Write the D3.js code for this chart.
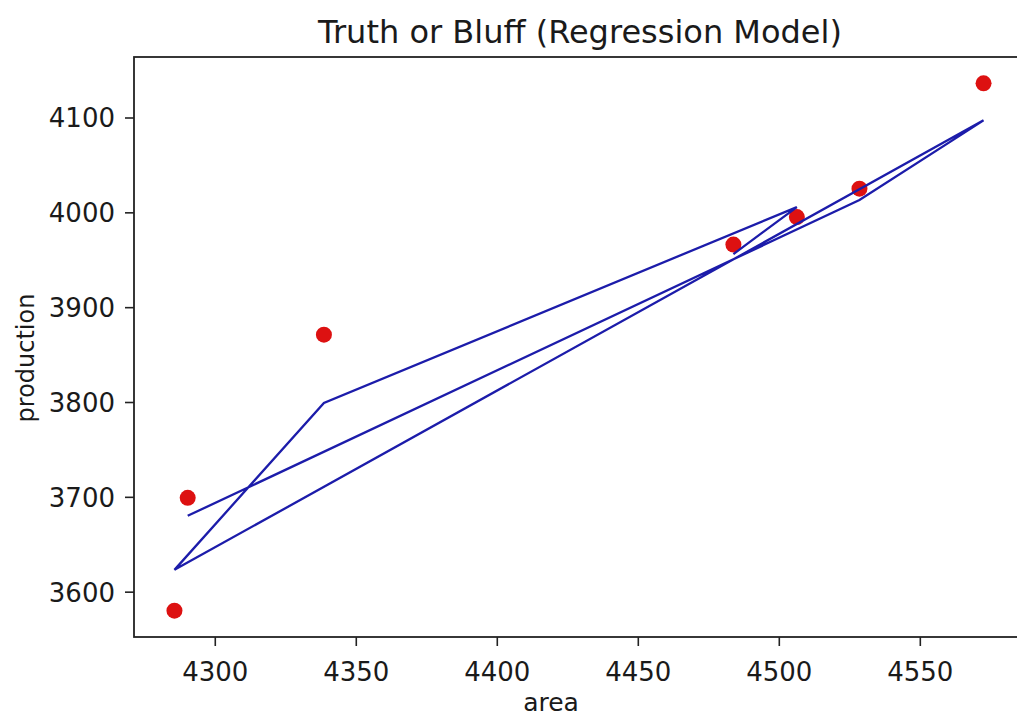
<!DOCTYPE html>
<html>
<head>
<meta charset="utf-8">
<script src="https://cdn.jsdelivr.net/npm/d3@7/dist/d3.min.js"></script>
<style>
  html, body { margin: 0; padding: 0; background: #ffffff; }
  svg { display: block; }
  text { font-family: "DejaVu Sans", sans-serif; fill: #1a1a1a; }
</style>
</head>
<body>
<div id="chart"></div>
<script>
// ---- data (rows in original order) ----
const area       = [4290.4, 4528.6, 4572.6, 4285.7, 4338.7, 4506.4, 4483.9];
const production = [3699,   4025,   4136,   3580,   3871,   3995,   3966];
const predicted  = [3680,   4013,   4097,   3623,   3799,   4005.5, 3956];
const xTicks = [4300, 4350, 4400, 4450, 4500, 4550];
const yTicks = [3600, 3700, 3800, 3900, 4000, 4100];
const titleText = "Truth or Bluff (Regression Model)";
const xLabel = "area";
const yLabel = "production";

const W = 1017, H = 719;
const mLeft = 134, mRight = 1024, mTop = 57, mBottom = 637;

const svg = d3.select("#chart").append("svg")
  .attr("width", W).attr("height", H);

// matplotlib-style 5% margins
const xmin = d3.min(area), xmax = d3.max(area);
const allY = production.concat(predicted);
const ymin = d3.min(allY), ymax = d3.max(allY);
const xm = (xmax - xmin) * 0.05, ym = (ymax - ymin) * 0.05;

const x = d3.scaleLinear().domain([xmin - xm, xmax + xm]).range([mLeft, mRight]);
const y = d3.scaleLinear().domain([ymin - ym, ymax + ym]).range([mBottom, mTop]);

// axes
const xAxis = d3.axisBottom(x).tickValues(xTicks).tickSize(9).tickPadding(10).tickFormat(d3.format("d"));
const yAxis = d3.axisLeft(y).tickValues(yTicks).tickSize(9).tickPadding(10).tickFormat(d3.format("d"));

const gx = svg.append("g").attr("transform", `translate(0,${mBottom})`).call(xAxis);
const gy = svg.append("g").attr("transform", `translate(${mLeft},0)`).call(yAxis);
[gx, gy].forEach(g => {
  g.select(".domain").remove();
  g.selectAll(".tick line").attr("stroke", "#222").attr("stroke-width", 1.6);
  g.selectAll(".tick text").attr("font-size", 26).attr("fill", "#222")
    .style("font-family", "'DejaVu Sans', sans-serif");
});
gx.selectAll(".tick text").attr("dy", "0.95em");
gy.selectAll(".tick text").attr("dy", "0.36em");

// scatter
svg.append("g").selectAll("circle")
  .data(area.map((a, i) => [a, production[i]]))
  .join("circle")
  .attr("cx", d => x(d[0]))
  .attr("cy", d => y(d[1]))
  .attr("r", 8)
  .attr("fill", "#dd1111");

// regression line (data order)
const line = d3.line().x(d => x(d[0])).y(d => y(d[1]));
svg.append("path")
  .datum(area.map((a, i) => [a, predicted[i]]))
  .attr("d", line)
  .attr("fill", "none")
  .attr("stroke", "#1c1caa")
  .attr("stroke-width", 2.3)
  .attr("stroke-linejoin", "miter");

// frame
svg.append("rect")
  .attr("x", mLeft).attr("y", mTop)
  .attr("width", mRight - mLeft).attr("height", mBottom - mTop)
  .attr("fill", "none").attr("stroke", "#222").attr("stroke-width", 1.8);

// title & labels
svg.append("text")
  .attr("x", 580).attr("y", 43)
  .attr("text-anchor", "middle").attr("font-size", 32)
  .text(titleText);

svg.append("text")
  .attr("x", 551).attr("y", 711)
  .attr("text-anchor", "middle").attr("font-size", 25)
  .text(xLabel);

svg.append("text")
  .attr("transform", `translate(34,358) rotate(-90)`)
  .attr("text-anchor", "middle").attr("font-size", 24)
  .text(yLabel);
</script>
</body>
</html>
